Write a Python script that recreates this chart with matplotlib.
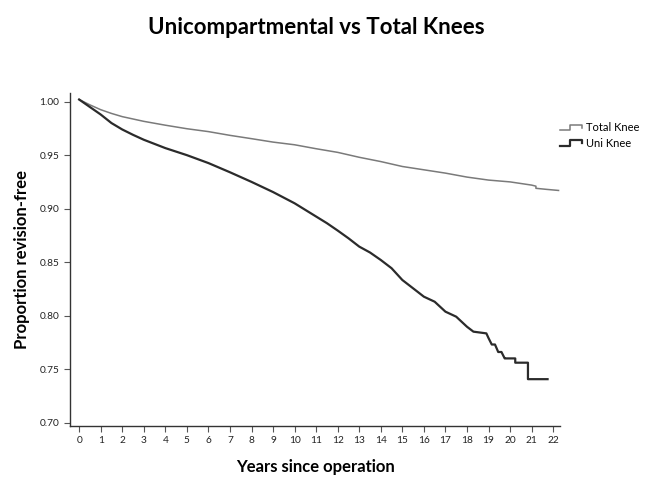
import numpy as np
import matplotlib
matplotlib.use('Agg')
import matplotlib.pyplot as plt
from matplotlib.legend_handler import HandlerBase
from matplotlib.lines import Line2D

plt.rcParams['font.family'] = ['Lato', 'DejaVu Sans']

#%% data
total_years = [0, 0.5, 1, 1.5, 2, 3, 4, 5, 6, 7, 8, 9, 10, 11, 12, 13, 14,
               15, 16, 17, 18, 19, 20, 21, 21.2, 21.2, 21.7, 22.25]
total_surv = [1.002, 0.997, 0.9925, 0.989, 0.986, 0.9816, 0.978, 0.9747,
              0.972, 0.9685, 0.9654, 0.9622, 0.9597, 0.956, 0.9526, 0.948,
              0.944, 0.9394, 0.9363, 0.9332, 0.9295, 0.9267, 0.925, 0.922,
              0.921, 0.919, 0.918, 0.917]

uni_years = [0, 0.5, 1, 1.5, 2, 2.5, 3, 4, 5, 6, 7, 8, 9, 10, 11, 11.5, 12,
             12.5, 13, 13.5, 14, 14.5, 15, 15.7, 16, 16.5, 17, 17.5, 18,
             18.3, 18.9, 19.0, 19.15, 19.3, 19.45, 19.6, 19.75, 19.8, 20.24,
             20.24, 20.83, 20.83, 21.74]
uni_surv = [1.002, 0.995, 0.988, 0.980, 0.974, 0.969, 0.9644, 0.9566,
            0.950, 0.9426, 0.934, 0.925, 0.9155, 0.905, 0.8926, 0.8864,
            0.8795, 0.8723, 0.8645, 0.859, 0.852, 0.8443, 0.8333, 0.8224,
            0.8177, 0.813, 0.8037, 0.799, 0.7896, 0.785, 0.7834, 0.779,
            0.773, 0.773, 0.766, 0.766, 0.760, 0.760, 0.760, 0.756, 0.756,
            0.7406, 0.7406]

xticks = list(range(0, 23))
yticks = [0.70, 0.75, 0.80, 0.85, 0.90, 0.95, 1.00]


class StepHandler(HandlerBase):
    # legend glyph shaped like a little survival step
    def create_artists(self, legend, orig_handle, xdescent, ydescent,
                       width, height, fontsize, trans):
        x0 = -xdescent
        y0 = -ydescent
        xs = [x0, x0 + 0.45 * width, x0 + 0.45 * width, x0 + width, x0 + width]
        ys = [y0 + 0.15 * height, y0 + 0.15 * height, y0 + 0.85 * height,
              y0 + 0.85 * height, y0 + 0.45 * height]
        line = Line2D(xs, ys, color=orig_handle.get_color(),
                      linewidth=orig_handle.get_linewidth(), transform=trans)
        return [line]


#%%
fig = plt.figure(figsize=(6.53, 4.90), dpi=100)
ax = fig.add_axes([0.107, 0.131, 0.751, 0.679])

l_tot, = ax.plot(total_years, total_surv, color='#7a7a7a', lw=1.1,
                 label='Total Knee')
l_uni, = ax.plot(uni_years, uni_surv, color='#2b2b2b', lw=1.6,
                 label='Uni Knee')

ax.set_xlim(-0.43, 22.33)
ax.set_ylim(0.697, 1.008)
ax.set_xticks(xticks)
ax.set_xticklabels([str(x) for x in xticks])
ax.set_yticks(yticks)
ax.set_yticklabels(['%.2f' % y for y in yticks])

for s in ['top', 'right']:
    ax.spines[s].set_visible(False)
for s in ['left', 'bottom']:
    ax.spines[s].set_color('#333333')
    ax.spines[s].set_linewidth(1.0)
ax.tick_params(axis='both', direction='out', length=4, width=0.8,
               color='#555555', labelsize=7.3, labelcolor='#222222', pad=3.5)

ax.set_xlabel('Years since operation', fontsize=12, fontweight='bold',
              labelpad=10)
ax.set_ylabel('Proportion revision-free', fontsize=12, fontweight='bold',
              labelpad=7)
fig.suptitle('Unicompartmental vs Total Knees', fontsize=16,
             fontweight='bold', x=0.484, y=0.966)

ax.legend(handles=[l_tot, l_uni], loc='upper left',
          bbox_to_anchor=(1.0, 0.912), frameon=False, fontsize=8,
          handler_map={Line2D: StepHandler()}, handlelength=2.0,
          handletextpad=0.35, borderpad=0, borderaxespad=0, labelspacing=0.4)

fig.savefig('out.png', dpi=100)
